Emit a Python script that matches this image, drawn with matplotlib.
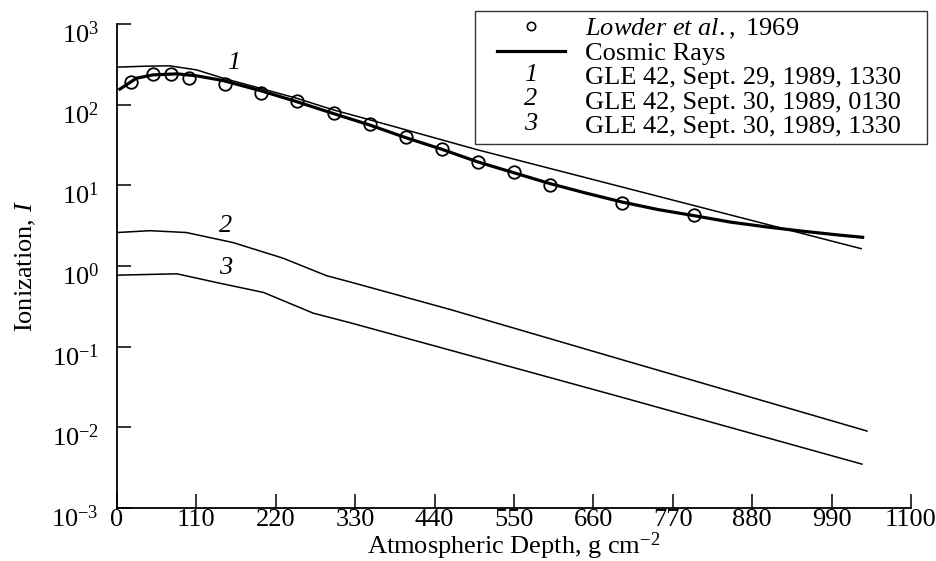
import matplotlib
matplotlib.use('Agg')
import matplotlib.pyplot as plt
from matplotlib.lines import Line2D
from matplotlib.text import Text
from matplotlib.legend_handler import HandlerBase, HandlerLine2D
from matplotlib.ticker import NullLocator
from matplotlib.transforms import ScaledTranslation

# Lowder et al. 1969 measurements
lowder_depth = [20, 50, 75, 100, 150, 200, 250, 300, 350, 400, 450, 500, 550, 600, 700, 800]
lowder_ion = [190, 241, 241, 213, 181, 141, 112, 79, 58, 39.5, 28.3, 19.4, 14.5, 10.1, 6.0, 4.3]

# cosmic ray background
cr_depth = [4, 27, 50, 83, 110, 147, 198, 249, 299, 350, 400, 450, 500, 550, 600, 650, 700,
            750, 800, 850, 900, 950, 1000, 1033]
cr_ion = [156, 213, 234, 241, 228, 199, 150, 109, 78, 56, 39, 28, 19.5, 14.3, 10.5, 8.0, 6.2,
          5.0, 4.2, 3.5, 3.05, 2.7, 2.42, 2.27]

# GLE 42 curves
gle1_depth = [0, 40, 73, 110, 147, 198, 249, 300, 350, 500, 750, 1031]
gle1_ion = [292, 300, 303, 270, 213, 160, 120, 86, 65, 27.5, 7.3, 1.64]
gle2_depth = [0, 46, 96, 161, 230, 290, 327, 461, 697, 1039]
gle2_ion = [2.6, 2.74, 2.6, 1.95, 1.25, 0.76, 0.62, 0.29, 0.07, 0.009]
gle3_depth = [0, 83, 143, 203, 272, 323, 697, 1032]
gle3_ion = [0.77, 0.80, 0.61, 0.47, 0.26, 0.198, 0.0239, 0.0035]

x_ticks = [0, 110, 220, 330, 440, 550, 660, 770, 880, 990, 1100]
y_ticks = [1e-3, 1e-2, 1e-1, 1e0, 1e1, 1e2, 1e3]
y_labels = ['$10^{-3}$', '$10^{-2}$', '$10^{-1}$', '$10^{0}$', '$10^{1}$', '$10^{2}$', '$10^{3}$']

plt.rcParams['font.family'] = ['Liberation Serif', 'DejaVu Serif']
plt.rcParams['mathtext.fontset'] = 'custom'
plt.rcParams['mathtext.rm'] = 'Liberation Serif'
plt.rcParams['mathtext.it'] = 'Liberation Serif:italic'
plt.rcParams['axes.unicode_minus'] = False

fs = 19
hpad = 0.62  # left padding inside the legend handle box, in font sizes


class CurveNumber:
    def __init__(self, s):
        self.s = s


class HandlerNumber(HandlerBase):
    def create_artists(self, legend, orig_handle, xdescent, ydescent, width, height, fontsize, trans):
        x = hpad * fontsize + (width - hpad * fontsize) / 2 - xdescent
        t = Text(x, height / 2 - ydescent, orig_handle.s, fontsize=fontsize,
                 style='italic', ha='center', va='center', transform=trans)
        return [t]


fig = plt.figure(figsize=(9.37, 5.61), dpi=100)
ax = fig.add_axes([117 / 937, 1 - 508 / 561, (911 - 117) / 937, (508 - 24) / 561])

ax.plot(gle1_depth, gle1_ion, 'k-', lw=1.1)
ax.plot(gle2_depth, gle2_ion, 'k-', lw=1.1)
ax.plot(gle3_depth, gle3_ion, 'k-', lw=1.1)
ax.plot(cr_depth, cr_ion, 'k-', lw=2.3)
ax.plot(lowder_depth, lowder_ion, 'o', mfc='none', mec='k', ms=9, mew=1.3)

ax.set_yscale('log')
ax.set_xlim(0, 1100)
ax.set_ylim(1e-3, 1e3)
ax.set_xticks(x_ticks)
ax.set_yticks(y_ticks)
ax.set_yticklabels(y_labels)
ax.yaxis.set_minor_locator(NullLocator())
ax.tick_params(direction='in', length=10, width=1.1, labelsize=fs)
ax.tick_params(axis='x', pad=1)
ax.tick_params(axis='y', pad=13)
shift = ScaledTranslation(0, -8 / 100, fig.dpi_scale_trans)
for lab in ax.get_yticklabels():
    lab.set_transform(lab.get_transform() + shift)
for s in ['top', 'right']:
    ax.spines[s].set_visible(False)
for s in ['left', 'bottom']:
    ax.spines[s].set_linewidth(1.3)

ax.set_xlabel('Atmospheric Depth, g cm$^{-2}$', fontsize=fs, labelpad=-1)
ax.set_ylabel('Ionization, $I$', fontsize=fs, labelpad=10)

# curve numbers
ax.text(161, 330, '1', fontsize=fs, style='italic', ha='center', va='center')
ax.text(151, 3.14, '2', fontsize=fs, style='italic', ha='center', va='center')
ax.text(151, 0.944, '3', fontsize=fs, style='italic', ha='center', va='center')

handles = [
    Line2D([], [], ls='none', marker='o', mfc='none', mec='k', ms=6, mew=1.2),
    Line2D([], [], color='k', lw=2.3),
    CurveNumber('1'), CurveNumber('2'), CurveNumber('3'),
]
labels = ['$\\mathit{Lowder\\ et\\ al.,}$ 1969', 'Cosmic Rays',
          'GLE 42, Sept. 29, 1989, 1330   ', 'GLE 42, Sept. 30, 1989, 0130   ',
          'GLE 42, Sept. 30, 1989, 1330   ']
leg = fig.legend(handles, labels, loc='upper right', bbox_to_anchor=(927 / 937, 1 - 11 / 561),
                 fontsize=fs, frameon=True, fancybox=False, borderaxespad=0,
                 handler_map={CurveNumber: HandlerNumber(), Line2D: HandlerLine2D(xpad=hpad)},
                 labelspacing=0.03, handlelength=2.6 + hpad, handletextpad=0.75, borderpad=0.22)
leg.get_frame().set_edgecolor('k')
leg.get_frame().set_linewidth(1.0)

fig.savefig('out.png', dpi=100)
